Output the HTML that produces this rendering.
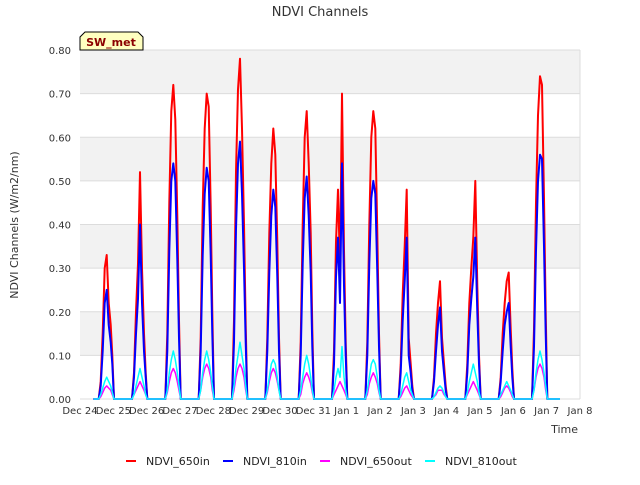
<!DOCTYPE html>
<html><head><meta charset="utf-8"><style>
body{margin:0;background:#fff;font-family:"Liberation Sans","DejaVu Sans",sans-serif;}
svg text{font-family:"DejaVu Sans","Liberation Sans",sans-serif;}
</style></head><body>
<svg id="c" width="640" height="480" xmlns="http://www.w3.org/2000/svg">
<text x="320" y="16" text-anchor="middle" font-size="13" fill="#333">NDVI Channels</text>
<g id="bands"></g><g id="grid"></g><g id="series"></g><g id="axes"></g>
<text x="18" y="225" transform="rotate(-90 18 225)" text-anchor="middle" font-size="11" fill="#333">NDVI Channels (W/m2/nm)</text>
<text x="578" y="433" text-anchor="end" font-size="11" fill="#333">Time</text>
<g>
<path d="M80,50 L80,37 L85,32 L138,32 L143,37 L143,50 Z" fill="#ffffc0" stroke="#000" stroke-width="1"/>
<text x="111" y="46" text-anchor="middle" font-size="11" font-weight="bold" fill="#8b0000">SW_met</text></g>
<g id="legend"></g>
</svg>
<script>
const categories=["Dec 24","Dec 25","Dec 26","Dec 27","Dec 28","Dec 29","Dec 30","Dec 31","Jan 1","Jan 2","Jan 3","Jan 4","Jan 5","Jan 6","Jan 7","Jan 8"];
const yTicks=[0,0.1,0.2,0.3,0.4,0.5,0.6,0.7,0.8];
const dayOffsets=[0.56,0.62,0.68,0.74,0.8,0.86,0.92,0.97,1.02];
const ndvi650in=[[0,0.04,0.15,0.30,0.33,0.22,0.17,0.10,0],[0,0.06,0.20,0.31,0.52,0.30,0.15,0.06,0],[0,0.15,0.45,0.66,0.72,0.64,0.42,0.18,0],[0,0.14,0.44,0.62,0.70,0.67,0.44,0.20,0],[0,0.18,0.52,0.71,0.78,0.62,0.40,0.17,0],[0,0.14,0.38,0.54,0.62,0.56,0.36,0.14,0],[0,0.13,0.40,0.60,0.66,0.54,0.38,0.16,0],[0,0.11,0.36,0.48,0.30,0.70,0.34,0.13,0],[0,0.13,0.40,0.60,0.66,0.62,0.38,0.15,0],[0,0.08,0.24,0.35,0.48,0.14,0.08,0.03,0],[0,0.05,0.15,0.22,0.27,0.14,0.08,0.03,0],[0,0.08,0.22,0.30,0.37,0.50,0.26,0.10,0],[0,0.05,0.15,0.22,0.27,0.29,0.16,0.07,0],[0,0.16,0.45,0.65,0.74,0.72,0.46,0.20,0]];
const ndvi810in=[[0,0.03,0.11,0.22,0.25,0.17,0.13,0.08,0],[0,0.05,0.15,0.23,0.40,0.22,0.11,0.05,0],[0,0.11,0.34,0.50,0.54,0.50,0.32,0.14,0],[0,0.11,0.33,0.47,0.53,0.50,0.33,0.15,0],[0,0.13,0.39,0.54,0.59,0.47,0.30,0.13,0],[0,0.11,0.29,0.42,0.48,0.44,0.28,0.11,0],[0,0.10,0.31,0.46,0.51,0.42,0.29,0.12,0],[0,0.08,0.28,0.37,0.22,0.54,0.26,0.10,0],[0,0.10,0.31,0.46,0.50,0.47,0.29,0.12,0],[0,0.06,0.18,0.27,0.37,0.10,0.06,0.02,0],[0,0.04,0.11,0.17,0.21,0.11,0.06,0.02,0],[0,0.06,0.17,0.23,0.28,0.37,0.20,0.08,0],[0,0.04,0.11,0.17,0.20,0.22,0.12,0.05,0],[0,0.12,0.34,0.50,0.56,0.55,0.35,0.15,0]];
const ndvi650out=[[0,0.005,0.015,0.025,0.03,0.025,0.02,0.01,0],[0,0.01,0.02,0.03,0.04,0.03,0.02,0.01,0],[0,0.015,0.04,0.06,0.07,0.06,0.04,0.02,0],[0,0.02,0.05,0.07,0.08,0.07,0.05,0.02,0],[0,0.02,0.05,0.07,0.08,0.07,0.05,0.02,0],[0,0.015,0.04,0.06,0.07,0.06,0.04,0.02,0],[0,0.01,0.035,0.05,0.06,0.05,0.035,0.015,0],[0,0.01,0.02,0.03,0.04,0.03,0.02,0.01,0],[0,0.01,0.035,0.05,0.06,0.05,0.035,0.015,0],[0,0.005,0.015,0.025,0.03,0.02,0.01,0.005,0],[0,0.005,0.01,0.02,0.02,0.02,0.01,0.005,0],[0,0.01,0.02,0.03,0.04,0.03,0.02,0.01,0],[0,0.005,0.015,0.025,0.03,0.025,0.015,0.005,0],[0,0.02,0.05,0.07,0.08,0.07,0.05,0.02,0]];
const ndvi810out=[[0,0.01,0.025,0.04,0.05,0.04,0.03,0.015,0],[0,0.01,0.03,0.05,0.07,0.05,0.03,0.01,0],[0,0.02,0.06,0.09,0.11,0.09,0.06,0.03,0],[0,0.02,0.06,0.09,0.11,0.09,0.06,0.03,0],[0,0.03,0.07,0.10,0.13,0.10,0.07,0.03,0],[0,0.02,0.05,0.08,0.09,0.08,0.05,0.02,0],[0,0.02,0.05,0.08,0.10,0.08,0.05,0.02,0],[0,0.02,0.05,0.07,0.05,0.12,0.05,0.02,0],[0,0.02,0.05,0.08,0.09,0.08,0.05,0.02,0],[0,0.01,0.03,0.05,0.06,0.04,0.02,0.01,0],[0,0.005,0.015,0.025,0.03,0.025,0.015,0.005,0],[0,0.015,0.04,0.06,0.08,0.06,0.04,0.015,0],[0,0.01,0.02,0.03,0.04,0.03,0.02,0.01,0],[0,0.02,0.06,0.09,0.11,0.09,0.06,0.03,0]];
const NS="http://www.w3.org/2000/svg";
const L=80,R=580,T=50,B=399;
function xs(d){return L+d*(R-L)/15;}
function ys(v){return B-v*(B-T)/0.8;}
function mk(tag,attrs,parent){const e=document.createElementNS(NS,tag);for(const k in attrs)e.setAttribute(k,attrs[k]);document.getElementById(parent).appendChild(e);return e;}
for(let i=0;i<yTicks.length-1;i++){if(i%2===1){const r=mk('rect',{x:L,y:ys(yTicks[i+1]),width:R-L,height:ys(yTicks[i])-ys(yTicks[i+1]),fill:'#f2f2f2'},'bands');

}}
yTicks.forEach(v=>{const g=mk('line',{x1:L,x2:R,y1:ys(v),y2:ys(v),stroke:'#dcdcdc','stroke-width':1},'grid');


const t=mk('text',{x:L-9,y:ys(v)+4,'text-anchor':'end','font-size':10,fill:'#333'},'axes');t.textContent=v.toFixed(2);

});
mk('line',{x1:R,x2:R,y1:T,y2:B,stroke:'#dcdcdc'},'grid');
categories.forEach((c,i)=>{const t=mk('text',{x:xs(i),y:B+15,'text-anchor':'middle','font-size':10,fill:'#333'},'axes');t.textContent=c;

});
function draw(data,color,name,w){let pts=[[xs(0.4),ys(0)]];data.forEach((day,k)=>{day.forEach((v,j)=>pts.push([xs(k+dayOffsets[j]),ys(v)]));});pts.push([xs(14.4),ys(0)]);
const p=mk('polyline',{points:pts.map(p=>p[0].toFixed(1)+','+p[1].toFixed(1)).join(' '),fill:'none',stroke:color,'stroke-width':w,'stroke-linejoin':'round'},'series');

}
draw(ndvi650in,'#ff0000','series-ndvi-650in',2);
draw(ndvi810in,'#0000ff','series-ndvi-810in',2);
draw(ndvi650out,'#ff00ff','series-ndvi-650out',1.5);
draw(ndvi810out,'#00ffff','series-ndvi-810out',1.5);
const legendNames=["NDVI_650in","NDVI_810in","NDVI_650out","NDVI_810out"];
const legendColors=["#ff0000","#0000ff","#ff00ff","#00ffff"];
const legendX=[126,223,320,425];
legendNames.forEach((n,i)=>{const g=mk('g',{},'legend');


const ln=document.createElementNS(NS,'line');ln.setAttribute('x1',legendX[i]);ln.setAttribute('x2',legendX[i]+10);ln.setAttribute('y1',461);ln.setAttribute('y2',461);ln.setAttribute('stroke',legendColors[i]);ln.setAttribute('stroke-width',2);g.appendChild(ln);
const t=document.createElementNS(NS,'text');t.setAttribute('x',legendX[i]+20);t.setAttribute('y',465);t.setAttribute('font-size',11);t.setAttribute('fill','#222');t.textContent=n;g.appendChild(t);});
</script>
</body></html>
